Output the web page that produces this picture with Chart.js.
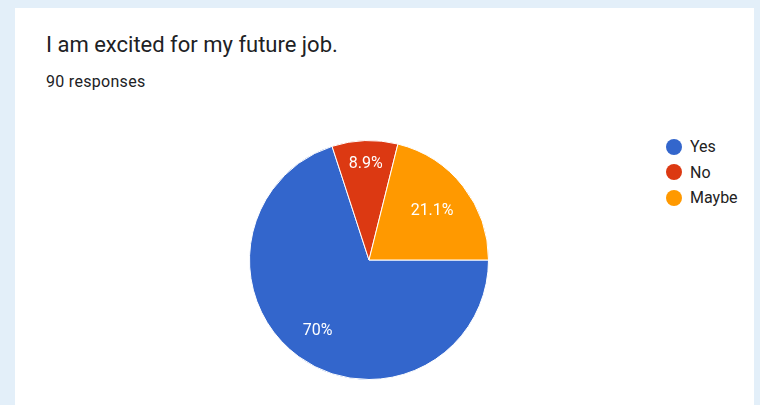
<!DOCTYPE html>
<html>
<head>
<meta charset="utf-8">
<script src="https://cdn.jsdelivr.net/npm/chart.js@4/dist/chart.umd.min.js"></script>
<style>
  html, body { margin: 0; padding: 0; }
  body { width: 760px; height: 405px; background: #e3eff9; position: relative; overflow: hidden; font-family: Roboto, Arial, sans-serif; }
  .card { position: absolute; left: 15px; top: 8px; width: 739px; height: 410px; background: #fff; }
  .title { position: absolute; left: 31px; top: 24px; font-size: 22px; color: #202124; }
  .sub { position: absolute; left: 31px; top: 64px; font-size: 16px; color: #202124; letter-spacing: 0.3px; }
  #wrap { position: absolute; left: 229px; top: 120px; width: 280px; height: 280px; }
  #legend { position: absolute; left: 666px; top: 134px; font-size: 16px; color: #222; }
  #legend div { height: 25.5px; display: flex; align-items: center; }
  #legend span.dot { width: 16px; height: 16px; border-radius: 50%; margin-right: 8px; display: inline-block; }
</style>
</head>
<body>
<div class="card">
  <div class="title">I am excited for my future job.</div>
  <div class="sub">90 responses</div>
</div>
<div id="wrap"><canvas id="pie" width="280" height="280"></canvas></div>
<div id="legend"></div>
<script>
const categorias = ['Yes', 'No', 'Maybe'];
const respostas = [63, 8, 19];
const rotulos = ['70%', '8.9%', '21.1%'];
const cores = ['#3366cc', '#dc3912', '#ff9900'];
const distRotulo = [0.73, 0.8, 0.67]; // onde cada rótulo fica no raio

// rótulos brancos dentro das fatias
const rotulosPlugin = {
  id: 'rotulos',
  afterDatasetsDraw(chart) {
    const ctx = chart.ctx;
    const meta = chart.getDatasetMeta(0);
    ctx.save();
    ctx.fillStyle = '#fff';
    ctx.font = '16px Roboto, Arial, sans-serif';
    ctx.textAlign = 'center';
    ctx.textBaseline = 'middle';
    meta.data.forEach((arc, i) => {
      const p = arc.getProps(['x', 'y', 'startAngle', 'endAngle', 'outerRadius']);
      const meio = (p.startAngle + p.endAngle) / 2;
      const r = p.outerRadius * distRotulo[i];
      ctx.fillText(rotulos[i], p.x + Math.cos(meio) * r, p.y + Math.sin(meio) * r);
    });
    ctx.restore();
  }
};

new Chart(document.getElementById('pie'), {
  type: 'pie',
  data: {
    labels: categorias,
    datasets: [{
      data: respostas,
      backgroundColor: cores,
      borderColor: '#fff',
      borderWidth: 1
    }]
  },
  options: {
    responsive: false,
    animation: false,
    rotation: 90,
    layout: { padding: 20 },
    plugins: {
      legend: { display: false },
      tooltip: { enabled: false }
    }
  },
  plugins: [rotulosPlugin]
});

// legenda em HTML
const leg = document.getElementById('legend');
categorias.forEach((c, i) => {
  const item = document.createElement('div');
  item.innerHTML = '<span class="dot" style="background:' + cores[i] + '"></span>' + c;
  leg.appendChild(item);
});
</script>
</body>
</html>
